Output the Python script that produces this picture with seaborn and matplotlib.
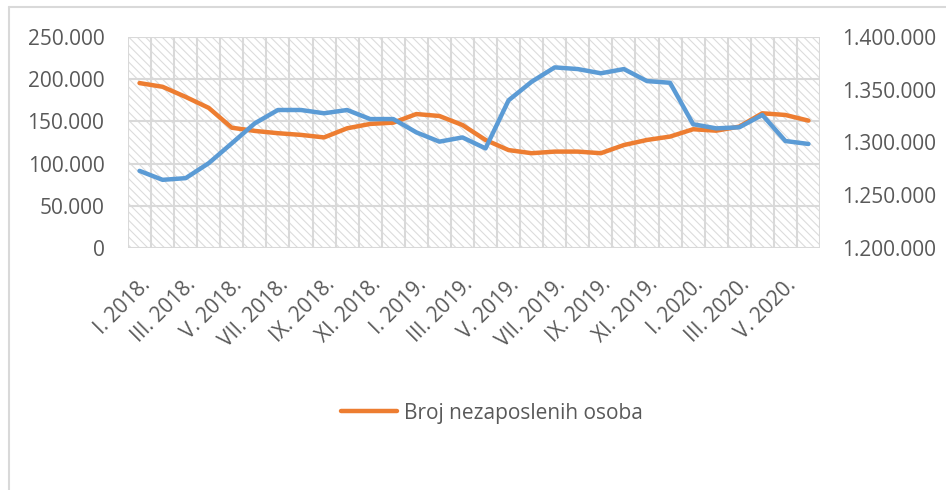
import numpy as np
import pandas as pd
import matplotlib
matplotlib.use("Agg")
import matplotlib.pyplot as plt
from matplotlib.patches import Rectangle
from matplotlib.lines import Line2D
import seaborn as sns

# month labels (Roman numerals), Jan 2018 - Jun 2020
roman = ['I', 'II', 'III', 'IV', 'V', 'VI', 'VII', 'VIII', 'IX', 'X', 'XI', 'XII']
months = [f"{r}. {y}." for y in (2018, 2019, 2020) for r in roman][:30]

# Broj nezaposlenih osoba (left axis)
unemployed = [195400, 191000, 179000, 166000, 142500, 138700, 136000, 134000, 131000, 141800,
              147000, 148500, 158700, 156400, 145700, 128000, 116000, 112300, 114200, 114200,
              112300, 122000, 128000, 132000, 140700, 139000, 143800, 159600, 157600, 150900]

# second series (right axis)
second = [1273100, 1264600, 1266200, 1280400, 1299200, 1318200, 1330800, 1330800, 1327700, 1330800,
          1322200, 1322200, 1309600, 1300800, 1304800, 1294400, 1340000, 1357600, 1371200, 1369600,
          1365600, 1369600, 1358200, 1356600, 1317300, 1313400, 1314400, 1326100, 1301400, 1298600]

df = pd.DataFrame({'pos': np.arange(len(months)), 'month': months,
                   'unemployed': unemployed, 'second': second})

sns.set_theme(style='white')
plt.rcParams['font.family'] = ['Open Sans', 'DejaVu Sans']
plt.rcParams['hatch.linewidth'] = 0.8

grid_col = '#d9d9d9'
text_col = '#595959'
orange = '#ED7D31'
blue = '#5B9BD5'

fig = plt.figure(figsize=(9.46, 4.9), dpi=100)
ax = fig.add_axes([0.1353, 0.4939, 0.7315, 0.4306])

# hatched plot background
ax.add_patch(Rectangle((0, 0), 1, 1, transform=ax.transAxes, facecolor='white',
                       edgecolor='#dcdcdc', hatch='\\\\\\\\', linewidth=0, zorder=0))

sns.lineplot(data=df, x='pos', y='unemployed', ax=ax, color=orange, linewidth=3.2,
             zorder=3, legend=False)
ax.set_ylim(0, 250000)
ax.set_yticks(np.arange(0, 250001, 50000))
ax.set_yticklabels([f"{v:,}".replace(',', '.') for v in range(0, 250001, 50000)])

ax2 = ax.twinx()
sns.lineplot(data=df, x='pos', y='second', ax=ax2, color=blue, linewidth=3.2,
             zorder=3, legend=False)
ax2.set_ylim(1200000, 1400000)
ax2.set_yticks(np.arange(1200000, 1400001, 50000))
ax2.set_yticklabels([f"{v:,}".replace(',', '.') for v in range(1200000, 1400001, 50000)])

n = len(months)
for a in (ax, ax2):
    a.set_xlim(-0.5, n - 0.5)
    a.set_xlabel('')
    a.set_ylabel('')
    for s in a.spines.values():
        s.set_visible(False)

# gridlines
for v in range(0, 250001, 50000):
    ax.axhline(v, color=grid_col, linewidth=1.5, zorder=1)
for b in np.arange(-0.5, n, 1.0):
    ax.axvline(b, color=grid_col, linewidth=1.5, zorder=1)

# x ticks: marks at category boundaries, labels every other month
ax.set_xticks(np.arange(-0.5, n, 1.0))
ax.set_xticklabels([])
ax.tick_params(axis='x', which='major', length=5, width=1.5, color=grid_col, direction='out')
ax.set_xticks(np.arange(0, n, 2), minor=True)
ax.set_xticklabels(months[::2], minor=True, rotation=45, ha='right',
                   rotation_mode='anchor', fontsize=15, color=text_col)
ax.tick_params(axis='x', which='minor', length=0, pad=19)
ax.tick_params(axis='y', length=0, pad=17, labelsize=15, labelcolor=text_col)
ax2.tick_params(axis='y', length=0, pad=16, labelsize=15, labelcolor=text_col)
ax2.set_xticks([])

# legend (only unemployed series)
handle = Line2D([], [], color=orange, linewidth=3.2)
fig.legend(handles=[handle], labels=['Broj nezaposlenih osoba'], loc='center',
           bbox_to_anchor=(0.52, 0.157), frameon=False, fontsize=15,
           handlelength=2.7, handletextpad=0.3, labelcolor=text_col)

# chart border (top and left edges)
fig.add_artist(Line2D([0.0095, 1.0], [0.986, 0.986], transform=fig.transFigure,
                      color=grid_col, linewidth=1.5))
fig.add_artist(Line2D([0.0095, 0.0095], [0.0, 0.986], transform=fig.transFigure,
                      color=grid_col, linewidth=1.5))

fig.savefig('out.png', dpi=100)
